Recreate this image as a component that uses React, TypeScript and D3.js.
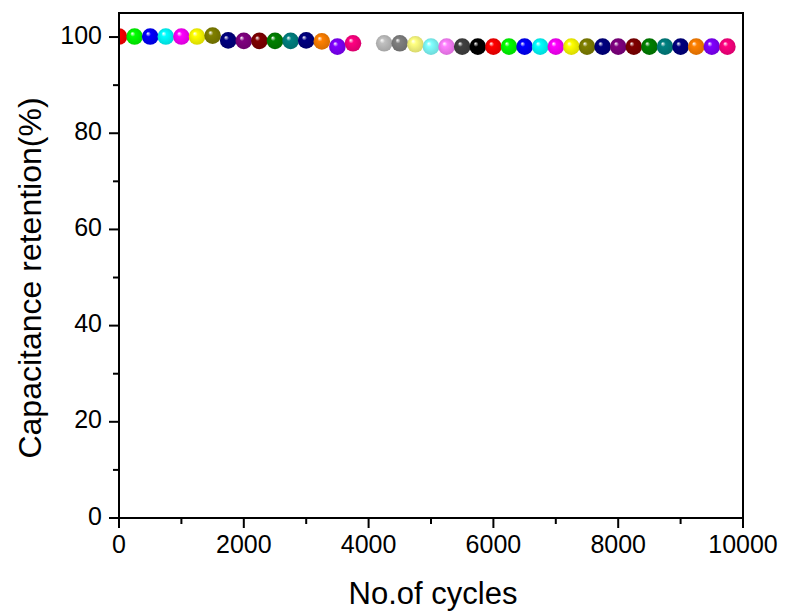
import React from "react";
import * as d3 from "d3";

// cycle number of each measured point
const cycles = [
  0, 250, 500, 750, 1000, 1250, 1500, 1750, 2000, 2250, 2500, 2750, 3000, 3250, 3500, 3750,
  4250, 4500, 4750, 5000, 5250, 5500, 5750, 6000, 6250, 6500, 6750, 7000, 7250, 7500, 7750,
  8000, 8250, 8500, 8750, 9000, 9250, 9500, 9750,
];

// capacitance retention (%)
const retention = [
  100.1, 100.1, 100.1, 100.1, 100.1, 100.1, 100.3, 99.3, 99.2, 99.2, 99.2, 99.2, 99.3, 99.1, 98.0, 98.7,
  98.7, 98.7, 98.5, 98.0, 98.0, 98.0, 98.0, 98.0, 98.0, 98.0, 98.0, 98.0, 98.0, 98.0, 98.0,
  98.0, 98.0, 98.0, 98.0, 98.0, 98.0, 98.0, 98.0,
];

// sphere colours, one per point
const ballColors = [
  "#ff0000", "#00ff00", "#0000ff", "#00ffff", "#ff00ff", "#ffff00", "#808000", "#000080",
  "#800080", "#800000", "#008000", "#008080", "#000080", "#ff8000", "#8000ff", "#ff0080",
  "#c0c0c0", "#808080", "#ffff80", "#80ffff", "#ff80ff", "#404040", "#000000", "#ff0000",
  "#00ff00", "#0000ff", "#00ffff", "#ff00ff", "#ffff00", "#808000", "#000080", "#800080",
  "#800000", "#008000", "#008080", "#000080", "#ff8000", "#8000ff", "#ff0080",
];

const xTicks = [0, 2000, 4000, 6000, 8000, 10000];
const xMinor = [1000, 3000, 5000, 7000, 9000];
const yTicks = [0, 20, 40, 60, 80, 100];
const yMinor = [10, 30, 50, 70, 90];

const W = 787;
const H = 614;
const plot = { left: 119, right: 743, top: 13, bottom: 518 };
const font = "'Liberation Sans', Arial, sans-serif";

export default function App() {
  const x = d3.scaleLinear().domain([0, 10000]).range([plot.left, plot.right]);
  const y = d3.scaleLinear().domain([0, 105]).range([plot.bottom, plot.top]);
  const r = 8.3;

  return (
    <svg
      width={W}
      height={H}
      style={{ position: "absolute", left: 0, top: 0, background: "#fff" }}
    >
      <defs>
        {ballColors.map((c, i) => (
          <radialGradient key={i} id={`ball${i}`} cx="0.5" cy="0.5" r="0.55" fx="0.35" fy="0.3">
            <stop offset="0" stopColor="#ffffff" />
            <stop offset="0.28" stopColor={c} />
            <stop offset="1" stopColor={d3.color(c)!.darker(0.5).formatHex()} />
          </radialGradient>
        ))}
        <clipPath id="plotClip">
          <rect
            x={plot.left}
            y={plot.top}
            width={plot.right - plot.left}
            height={plot.bottom - plot.top}
          />
        </clipPath>
      </defs>

      {/* points */}
      <g clipPath="url(#plotClip)">
        {cycles.map((c, i) => (
          <circle key={i} cx={x(c)} cy={y(retention[i])} r={r} fill={`url(#ball${i})`} />
        ))}
      </g>

      {/* frame */}
      <rect
        x={plot.left}
        y={plot.top}
        width={plot.right - plot.left}
        height={plot.bottom - plot.top}
        fill="none"
        stroke="#000"
        strokeWidth={2}
      />

      {/* x axis ticks */}
      {xTicks.map((t) => (
        <g key={t}>
          <line x1={x(t)} x2={x(t)} y1={plot.bottom} y2={plot.bottom + 10} stroke="#000" strokeWidth={2} />
          <text
            x={x(t)}
            y={plot.bottom + 35}
            textAnchor="middle"
            fontFamily={font}
            fontSize={25}
          >
            {t}
          </text>
        </g>
      ))}
      {xMinor.map((t) => (
        <line key={t} x1={x(t)} x2={x(t)} y1={plot.bottom} y2={plot.bottom + 6} stroke="#000" strokeWidth={2} />
      ))}

      {/* y axis ticks */}
      {yTicks.map((t) => (
        <g key={t}>
          <line x1={plot.left - 10} x2={plot.left} y1={y(t)} y2={y(t)} stroke="#000" strokeWidth={2} />
          <text
            x={plot.left - 17}
            y={y(t) + 6.5}
            textAnchor="end"
            fontFamily={font}
            fontSize={25}
          >
            {t}
          </text>
        </g>
      ))}
      {yMinor.map((t) => (
        <line key={t} x1={plot.left - 6} x2={plot.left} y1={y(t)} y2={y(t)} stroke="#000" strokeWidth={2} />
      ))}

      {/* axis titles */}
      <text x={433} y={604} textAnchor="middle" fontFamily={font} fontSize={31}>
        No.of cycles
      </text>
      <text
        transform={`translate(41,${278}) rotate(-90)`}
        textAnchor="middle"
        fontFamily={font}
        fontSize={32}
      >
        Capacitance retention(%)
      </text>
    </svg>
  );
}
